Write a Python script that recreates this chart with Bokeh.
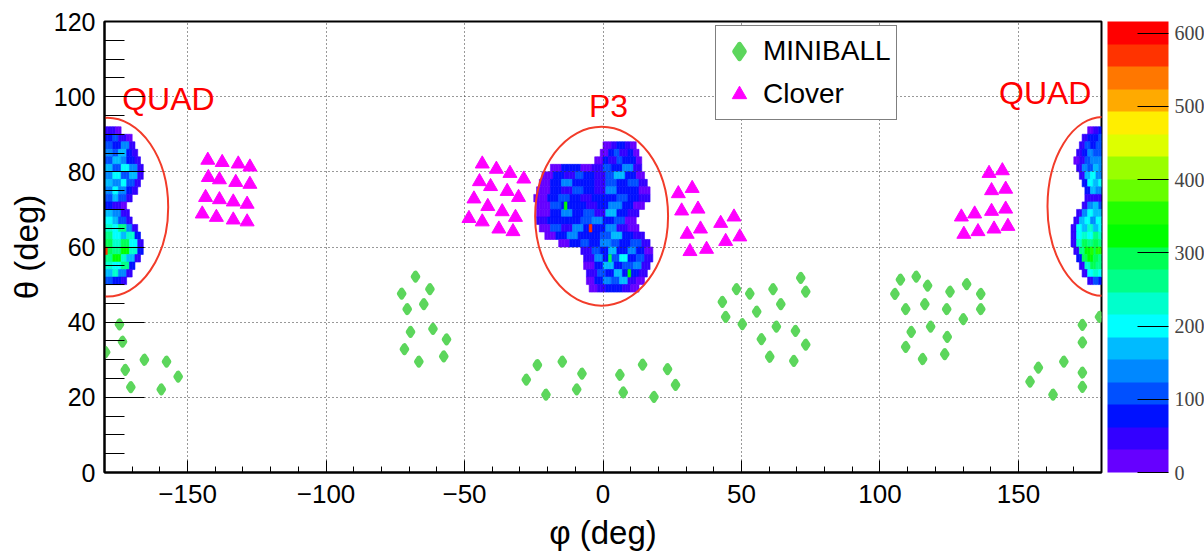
from bokeh.plotting import figure
from bokeh.models import (Range1d, FixedTicker, LinearColorMapper, ColorBar,
                          Legend, LegendItem, ColumnDataSource)
from bokeh.core.properties import value
from bokeh.embed import file_html
from bokeh.resources import INLINE

# ---------------- data ----------------
# MINIBALL detector positions (phi, theta) in degrees
mb_phi = [-179.6, -174.6, -173.5, -172.5, -170.5, -165.6, -159.5, -157.6, -153.4,
          -67.7, -62.5, -70.7, -64.7, -69.5, -61.4, -56.5, -71.7, -66.5, -57.5, -72.7,
          -27.7, -23.7, -20.6, -14.7, -9.5, -7.6,
          6.1, 7.3, 14.3, 18.4, 23.3, 26.2,
          43.1, 44.3, 48.2, 50.3, 53.0, 55.5, 57.2, 60.2, 61.4, 62.6, 64.2, 68.9, 69.5, 73.2, 71.4, 73.2,
          107.4, 113.1, 117.2, 105.4, 109.3, 116.2, 125.3, 131.3, 136.4, 124.1, 136.4, 130.1,
          111.3, 118.3, 124.3, 109.3, 115.4, 123.4,
          154.2, 157.2, 162.5, 166.4, 173.1, 173.1, 173.1, 173.1, 179.3]
mb_theta = [32.0, 39.4, 34.8, 27.3, 22.7, 30.0, 22.1, 29.5, 25.5,
            52.1, 48.8, 43.5, 44.8, 37.4, 38.2, 35.4, 32.8, 29.5, 30.9, 47.6,
            24.7, 28.6, 20.7, 29.5, 22.1, 26.3,
            26.0, 21.3, 28.7, 20.1, 27.5, 23.3,
            45.4, 41.4, 48.8, 39.5, 47.6, 42.8, 35.5, 30.8, 48.8, 38.8, 44.8, 29.7, 37.7, 48.1, 51.8, 34.0,
            51.3, 52.1, 49.7, 47.5, 43.5, 44.8, 48.1, 50.1, 47.5, 43.5, 43.5, 40.8,
            37.4, 38.8, 36.1, 33.4, 30.2, 31.5,
            24.2, 27.9, 20.7, 29.5, 39.3, 34.6, 26.6, 22.8, 41.4]

# Clover detector positions (phi, theta)
cl_phi = [-142.7, -137.5, -131.7, -127.5, -142.5, -138.5, -132.6, -127.5,
          -143.5, -138.5, -133.5, -128.5, -144.7, -139.6, -133.5, -128.5,
          -43.6, -38.5, -33.6, -28.6, -44.6, -40.6, -34.6, -30.5,
          -46.6, -41.6, -36.4, -31.6, -48.4, -43.6, -37.6, -32.5,
          27.2, 32.2, 28.4, 34.3, 30.4, 35.2, 31.4, 37.4, 42.5, 47.3, 44.3, 49.4,
          139.4, 144.2, 140.3, 145.4, 129.4, 134.2, 140.3, 145.4, 130.3, 135.4, 141.2, 146.2]
cl_theta = [83.1, 82.5, 82.1, 81.3, 78.5, 77.9, 77.2, 76.7,
            73.2, 72.6, 72.0, 71.4, 68.8, 67.9, 67.2, 66.7,
            82.1, 80.7, 79.6, 78.1, 77.4, 76.1, 74.8, 73.2,
            72.8, 70.8, 69.4, 67.9, 67.6, 66.7, 64.8, 64.1,
            74.2, 75.6, 69.6, 70.1, 63.4, 64.8, 58.8, 59.4, 66.3, 68.0, 61.5, 62.7,
            79.6, 80.3, 75.0, 75.4, 68.0, 68.8, 69.5, 70.1, 63.4, 64.1, 64.8, 65.5]

# Hit-map rows: (theta centre, phi from, phi to, counts along the row)
p3_rows = [
    (87, 0, 12, [20, 50, 75, 45, 20]),
    (85, -1, 13, [25, 70, 95, 60, 80, 30]),
    (83, -3, 14, [20, 75, 55, 100, 70, 90, 30]),
    (81, -19, 14, [25, 65, 85, 20, 50, 110, 75, 130, 45]),
    (79, -22, 15, [30, 90, 55, 120, 75, 45, 95, 160, 65, 30]),
    (77, -23, 16, [20, 75, 140, 65, 90, 55, 120, 80, 105, 40]),
    (75, -24, 17, [30, 85, 55, 105, 75, 40, 135, 90, 70, 25]),
    (73, -25, 17, [15, 65, 120, 75, 50, 90, 65, 110, 80, 35]),
    (71, -24, 15, [30, 95, 70, 90, 55, 80, 130, 70, 30]),
    (69, -24, 13, [25, 80, 135, 65, 95, 50, 160, 90, 40]),
    (67, -24, 12, [35, 65, 90, 75, 120, 150, 80, 105, 30]),
    (65, -23, 13, [25, 95, 55, 145, 80, 70, 130, 55, 30]),
    (63, -21, 15, [30, 75, 150, 90, 65, 105, 170, 80, 45]),
    (61, -16, 17, [25, 80, 115, 65, 135, 95, 75, 120, 35]),
    (59, -8, 18, [40, 105, 75, 170, 90, 130, 65, 30]),
    (57, -7, 18, [35, 145, 80, 115, 185, 75, 95, 40]),
    (55, -7, 17, [30, 90, 160, 75, 105, 140, 50]),
    (53, -6, 16, [35, 120, 80, 180, 90, 65, 35]),
    (51, -6, 15, [25, 75, 140, 95, 155, 55, 25]),
    (49, -5, 13, [20, 50, 90, 65, 40, 15]),
]
quad_l_rows = [
    (91, -180, -174, [60, 40, 25]),
    (89, -180, -170, [90, 110, 60, 30]),
    (87, -180, -169, [120, 80, 140, 50]),
    (85, -180, -168, [150, 100, 170, 90, 40]),
    (83, -180, -167, [110, 180, 130, 90, 35]),
    (81, -180, -166, [170, 120, 200, 150, 60]),
    (79, -180, -166, [130, 190, 110, 160, 50]),
    (77, -180, -167, [180, 140, 210, 100, 45]),
    (75, -180, -168, [150, 200, 130, 90, 40]),
    (73, -180, -170, [120, 170, 100, 35]),
    (71, -180, -172, [80, 60, 30]),
    (69, -180, -171, [170, 130, 50]),
    (67, -180, -170, [200, 160, 120, 45]),
    (65, -180, -168, [230, 190, 250, 140, 50]),
    (63, -180, -167, [260, 210, 180, 230, 80]),
    (61, -180, -166, [300, 240, 280, 190, 60]),
    (59, -180, -166, [290, 250, 330, 220, 70]),
    (57, -180, -167, [270, 310, 240, 160, 50]),
    (55, -180, -169, [240, 200, 260, 90]),
    (53, -180, -170, [180, 220, 140, 60]),
    (51, -180, -172, [100, 70, 40]),
]
quad_r_rows = [
    (91, 175, 180, [30, 60, 80]),
    (89, 173, 180, [40, 90, 70, 100]),
    (87, 172, 180, [50, 110, 80, 120]),
    (85, 171, 180, [35, 90, 130, 100, 110]),
    (83, 170, 180, [30, 60, 120, 150, 130]),
    (81, 171, 180, [40, 140, 110, 170, 140]),
    (79, 172, 180, [60, 160, 190, 150]),
    (77, 173, 180, [80, 200, 170, 190]),
    (75, 174, 180, [90, 180, 150]),
    (73, 174, 180, [50, 40, 60]),
    (71, 173, 180, [60, 140, 170, 120]),
    (69, 171, 180, [50, 150, 190, 160, 180]),
    (67, 170, 180, [40, 170, 200, 150, 190]),
    (65, 169, 180, [45, 190, 160, 220, 180, 200]),
    (63, 169, 180, [60, 210, 240, 200, 260, 230]),
    (61, 169, 180, [50, 230, 280, 250, 300, 260]),
    (59, 170, 180, [60, 260, 320, 290, 340]),
    (57, 171, 180, [70, 280, 330, 300, 270]),
    (55, 172, 180, [60, 240, 290, 260]),
    (53, 173, 180, [50, 200, 230, 190]),
    (51, 175, 180, [40, 120, 90]),
]
# isolated hot cells (phi, theta, counts)
hot_phi = [-13.5, -4.5, 2.5, 9.5, -179.5, 176.5]
hot_theta = [71, 65, 57, 53, 59, 59]
hot_val = [330, 580, 300, 320, 570, 350]

cb_ticks = [0, 100, 200, 300, 400, 500, 600]
x_ticks = [-150, -100, -50, 0, 50, 100, 150]
x_tick_labels = ["\u2212150", "\u2212100", "\u221250", "0", "50", "100", "150"]
y_ticks = [0, 20, 40, 60, 80, 100, 120]

ann_text = ["QUAD", "P3", "QUAD"]
ann_phi = [-173.6, -5.1, 143.0]
ann_theta = [99.3, 97.6, 100.9]

ell_phi = [-179.0, -0.5, 180.5]
ell_theta = [70.6, 68.2, 70.8]
ell_w = [44.0, 48.0, 40.0]
ell_h = [47.6, 47.6, 47.6]

palette = ["#6600FF", "#3300FF", "#0011FF", "#0050FF", "#0088FF", "#00BBFF",
           "#00FFFF", "#00FFCC", "#00FF88", "#00FF55", "#00FF00", "#22FF00",
           "#66FF00", "#99FF00", "#DDFF00", "#FFEE00", "#FFAA00", "#FF7700",
           "#FF3300", "#FF0000"]
z_max = 616


def cells(rows):
    xs, ys, vs = [], [], []
    for th, lo, hi, vals in rows:
        n = hi - lo
        for k in range(n):
            xs.append(lo + k + 0.5)
            ys.append(th)
            vs.append(vals[min(int(k * len(vals) / n), len(vals) - 1)])
    return xs, ys, vs


hx, hy, hv = [], [], []
for rows in (p3_rows, quad_l_rows, quad_r_rows):
    a, b, c = cells(rows)
    hx += a
    hy += b
    hv += c

# ---------------- figure ----------------
FONT = "Liberation Sans"
p = figure(width=1204, height=553, output_backend="svg", toolbar_location=None,
           x_range=Range1d(-180, 180), y_range=Range1d(0, 120),
           min_border_left=104, min_border_right=103, min_border_top=21,
           min_border_bottom=81)
p.background_fill_color = "white"
p.border_fill_color = "white"
p.outline_line_color = "black"
p.outline_line_width = 2

mapper = LinearColorMapper(palette=palette, low=0, high=z_max)

heat = ColumnDataSource(dict(x=hx, y=hy, v=hv))
p.rect(x="x", y="y", width=1, height=2, source=heat,
       fill_color={"field": "v", "transform": mapper},
       line_color={"field": "v", "transform": mapper}, line_width=0.6,
       level="image")
hot = ColumnDataSource(dict(x=hot_phi, y=hot_theta, v=hot_val))
p.rect(x="x", y="y", width=1, height=2, source=hot,
       fill_color={"field": "v", "transform": mapper},
       line_color={"field": "v", "transform": mapper}, line_width=0.6,
       level="image")

ell = ColumnDataSource(dict(x=ell_phi, y=ell_theta, w=ell_w, h=ell_h))
p.ellipse(x="x", y="y", width="w", height="h", source=ell, fill_color=None,
          line_color="#f23c2a", line_width=2)

r_mb = p.scatter(mb_phi, mb_theta, marker="diamond", size=7,
                 fill_color="#5cd65c", line_color="#5cd65c", line_width=5,
                 line_join="round")
r_cl = p.scatter(cl_phi, cl_theta, marker="triangle", size=14,
                 fill_color="#ff00ff", line_color="#ff00ff")

ann = ColumnDataSource(dict(x=ann_phi, y=ann_theta, t=ann_text))
p.text(x="x", y="y", text="t", source=ann, text_color="#ff0000",
       text_font=value(FONT), text_font_size="32px",
       text_align="left", text_baseline="middle")

# axes
p.xaxis.ticker = FixedTicker(ticks=x_ticks, minor_ticks=list(range(-180, 181, 10)))
p.xaxis.major_label_overrides = {t: l for t, l in zip(x_ticks, x_tick_labels)}
p.yaxis.ticker = FixedTicker(ticks=y_ticks, minor_ticks=list(range(0, 121, 5)))
for ax in (p.xaxis[0], p.yaxis[0]):
    ax.axis_line_width = 2
    ax.axis_line_color = "black"
    ax.major_tick_out = 0
    ax.minor_tick_out = 0
    ax.major_tick_line_color = "black"
    ax.minor_tick_line_color = "black"
    ax.major_label_text_font = FONT
    ax.major_label_text_color = "black"
    ax.axis_label_text_font = FONT
    ax.axis_label_text_font_style = "normal"
    ax.axis_label_text_color = "black"
    ax.axis_label_text_font_size = "33px"
p.xaxis.major_tick_in = 12
p.xaxis.minor_tick_in = 6
p.yaxis.major_tick_in = 40
p.yaxis.minor_tick_in = 20
p.xaxis.major_label_text_font_size = "26px"
p.yaxis.major_label_text_font_size = "25px"
p.xaxis.major_label_standoff = 12
p.yaxis.major_label_standoff = 9
p.xaxis.axis_label = "\u03c6 (deg)"
p.yaxis.axis_label = "\u03b8 (deg)"
p.xaxis.axis_label_standoff = 8
p.yaxis.axis_label_standoff = 6

for g in (p.xgrid[0], p.ygrid[0]):
    g.grid_line_color = "#333333"
    g.grid_line_dash = "1 3"
    g.grid_line_width = 1
    g.level = "underlay"

legend = Legend(items=[LegendItem(label="MINIBALL", renderers=[r_mb]),
                       LegendItem(label="Clover", renderers=[r_cl])],
                location=(611, 352))
legend.label_text_font = FONT
legend.label_text_font_size = "28px"
legend.label_text_color = "black"
legend.border_line_color = "black"
legend.border_line_width = 1
legend.background_fill_color = "white"
legend.background_fill_alpha = 1
legend.padding = 5
legend.spacing = 3
legend.margin = 0
legend.glyph_width = 36
legend.glyph_height = 40
legend.label_height = 40
legend.label_standoff = 6
p.add_layout(legend)

cb = ColorBar(color_mapper=mapper, ticker=FixedTicker(ticks=cb_ticks),
              width=61, height=451, padding=0, margin=0, location=(1003, 0),
              major_tick_in=31, major_tick_out=0, major_tick_line_color="black",
              minor_tick_line_color=None,
              major_label_text_font="Liberation Serif",
              major_label_text_font_size="20px", label_standoff=6,
              bar_line_color=None, border_line_color=None,
              background_fill_alpha=0)
p.add_layout(cb)

open("out.html", "w").write(file_html(p, INLINE))
